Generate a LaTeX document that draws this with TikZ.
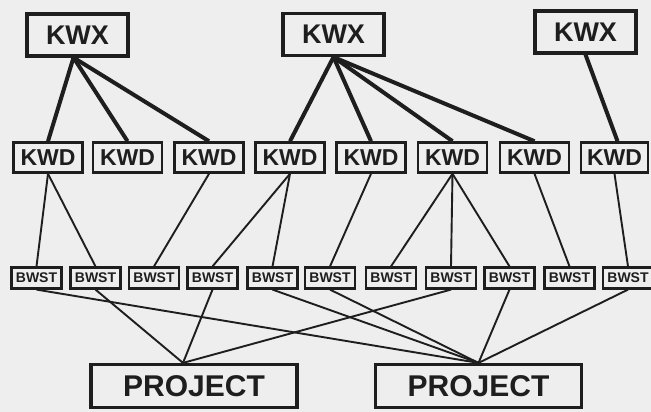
\documentclass[tikz,border=0pt]{standalone}
\usepackage{fontspec}
\setmainfont{Liberation Sans}
\usetikzlibrary{calc}
\definecolor{bgc}{HTML}{EEEEEE}
\definecolor{ink}{HTML}{1E1E1E}
\begin{document}
\begin{tikzpicture}[x=1pt,y=-1pt,
  box/.style={draw=ink,text=ink,fill=bgc,inner sep=0pt,font=\bfseries},
  kwx/.style={box,line width=3.2pt,minimum width=101pt,minimum height=42pt,font=\fontsize{27}{27}\selectfont\bfseries},
  kwd/.style={box,line width=2.6pt,minimum width=69pt,minimum height=30pt,font=\fontsize{23}{23}\selectfont\bfseries},
  bwst/.style={box,line width=2.2pt,minimum width=50pt,minimum height=21pt,font=\fontsize{14}{14}\selectfont\bfseries},
  proj/.style={box,line width=3.2pt,minimum width=206pt,minimum height=43pt,font=\fontsize{30}{30}\selectfont\bfseries},
  thick link/.style={draw=ink,line width=4pt},
  thin link/.style={draw=ink,line width=1.9pt}]
\fill[bgc] (0,0) rectangle (651,412);
\useasboundingbox (0,0) rectangle (651,412);
% top level
\node[kwx] (x1) at (77.5,35) {KWX};
\node[kwx] (x2) at (333.5,34.5) {KWX};
\node[kwx] (x3) at (585.5,32) {KWX};
% KWD row
\foreach \i/\x in {1/48,2/127.5,3/209,4/290,5/371,6/452.5,7/534.5}
  \node[kwd] (d\i) at (\x,157.5) {KWD};
\node[kwd,minimum width=67pt] (d8) at (614.5,157.5) {KWD};
% BWST row
\foreach \i/\x in {1/36.5,2/95.5,3/154,4/212.5,5/272.5,6/330,7/391,8/451,9/509.5,10/569.5}
  \node[bwst] (b\i) at (\x,278) {BWST};
\node[bwst] (b11) at (628,278) {BWST};
% projects
\node[proj] (p1) at (194,386) {PROJECT};
\node[proj] (p2) at (478.5,386) {PROJECT};
\coordinate (p1top) at ($(p1.north)+(-11,0)$);
\coordinate (x1bot) at ($(x1.south)+(-4,0)$);
\coordinate (d8top) at ($(d8.north)+(3,0)$);
% thin links
\path[thin link] (d1.south) -- (b1.north);
\path[thin link] (d1.south) -- (b2.north);
\path[thin link] (d3.south) -- (b3.north);
\path[thin link] (d4.south) -- (b4.north);
\path[thin link] (d4.south) -- (b5.north);
\path[thin link] (d5.south) -- (b6.north);
\path[thin link] (d6.south) -- (b7.north);
\path[thin link] (d6.south) -- (b8.north);
\path[thin link] (d6.south) -- (b9.north);
\path[thin link] (d7.south) -- (b10.north);
\path[thin link] (d8.south) -- (b11.north);
\path[thin link] (b2.south) -- (p1top);
\path[thin link] (b4.south) -- (p1top);
\path[thin link] (b8.south) -- (p1top);
\path[thin link] (b1.south) -- (p2.north);
\path[thin link] (b5.south) -- (p2.north);
\path[thin link] (b6.south) -- (p2.north);
\path[thin link] (b9.south) -- (p2.north);
\path[thin link] (b11.south) -- (p2.north);
% thick links
\path[thick link] (x1bot) -- (d1.north);
\path[thick link] (x1bot) -- (d2.north);
\path[thick link] (x1bot) -- (d3.north);
\path[thick link] (x2.south) -- (d4.north);
\path[thick link] (x2.south) -- (d5.north);
\path[thick link] (x2.south) -- (d6.north);
\path[thick link] (x2.south) -- (d7.north);
\path[thick link] (x3.south) -- (d8top);
\end{tikzpicture}
\end{document}
